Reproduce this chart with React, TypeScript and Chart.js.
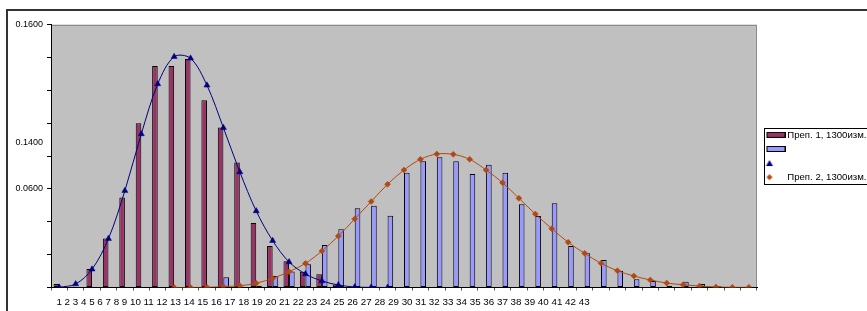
import React, { useEffect, useRef } from 'react';
import { Chart, registerables } from 'chart.js';

Chart.register(...registerables);

const categories = [
  '1', '2', '3', '4', '5', '6', '7', '8', '9', '10',
  '11', '12', '13', '14', '15', '16', '17', '18', '19', '20',
  '21', '22', '23', '24', '25', '26', '27', '28', '29', '30',
  '31', '32', '33', '34', '35', '36', '37', '38', '39', '40',
  '41', '42', '43',
];

// Series 1: bars (Преп. 1)
const prep1Bars = [
  0.0022, 0.0005, 0.0112, 0.0298, 0.0547, 0.0999, 0.1348, 0.1348, 0.1390, 0.1139,
  0.0974, 0.0760, 0.0392, 0.0252, 0.0160, 0.0096, 0.0080, 0.0019, 0, 0,
  0, 0, 0, 0, 0, 0, 0, 0, 0, 0,
  0, 0, 0, 0, 0, 0, 0, 0, 0, 0,
  0, 0, 0,
];

// Series 2: bars (Преп. 2)
const prep2Bars = [
  0, 0, 0, 0, 0, 0, 0, 0, 0, 0,
  0.0062, 0.0005, 0.0010, 0.0070, 0.0098, 0.0141, 0.0259, 0.0354, 0.0482, 0.0498,
  0.0437, 0.0698, 0.0768, 0.0792, 0.0768, 0.0690, 0.0747, 0.0698, 0.0506, 0.0435,
  0.0512, 0.0252, 0.0208, 0.0167, 0.0102, 0.0050, 0.0040, 0.0011, 0.0035, 0.0021,
  0.0007, 0.0003, 0.0005,
];

// Series 3: fitted curve for Преп. 1 (triangles)
const prep1Fit = [
  0.0001, 0.0021, 0.0111, 0.0297, 0.0589, 0.0934, 0.1238, 0.1404, 0.1394, 0.1230,
  0.0972, 0.0703, 0.0465, 0.0285, 0.0155, 0.0082, 0.0040, 0.0015, 0.0003, 0.0001,
  0.0000, null, null, null, null, null, null, null, null, null,
  null, null, null, null, null, null, null, null, null, null,
  null, null, null,
];

// Series 4: fitted curve for Преп. 2 (diamonds)
const prep2Fit = [
  null, null, null, null, null, null, null, 0.0000, 0.0000, 0.0001,
  0.0005, 0.0011, 0.0026, 0.0056, 0.0096, 0.0147, 0.0222, 0.0313, 0.0417, 0.0523,
  0.0628, 0.0715, 0.0780, 0.0812, 0.0810, 0.0780, 0.0715, 0.0638, 0.0543, 0.0447,
  0.0358, 0.0275, 0.0208, 0.0147, 0.0102, 0.0070, 0.0046, 0.0027, 0.0017, 0.0009,
  0.0003, 0.0001, 0.0001,
];

const legendLabels = ['Преп. 1, 1300изм.', '', '', 'Преп. 2, 1300изм.'];

const yTickValues = [0, 0.02, 0.04, 0.06, 0.08, 0.10, 0.12, 0.14, 0.16];
const yLabelValues = [0.16, 0.088, 0.06];
const yLabelTexts = ['0.1600', '0.1400', '0.0600'];

const FONT = "'Liberation Sans', Arial, sans-serif";
const MAROON = '#993366';
const LAVENDER = '#9999FF';
const NAVY = '#000080';
const ORANGE = '#B04A12';

function makeImg(w: number, h: number, draw: (c: CanvasRenderingContext2D) => void) {
  const c = document.createElement('canvas');
  c.width = w;
  c.height = h;
  const ctx = c.getContext('2d');
  if (ctx) draw(ctx);
  return c;
}

const plotAreaPlugin = {
  id: 'plotAreaDeco',
  beforeDraw(chart: any) {
    const { ctx, chartArea: a } = chart;
    ctx.save();
    ctx.fillStyle = '#C0C0C0';
    ctx.fillRect(a.left, a.top, a.right - a.left, a.bottom - a.top);
    ctx.strokeStyle = '#8a8a8a';
    ctx.lineWidth = 1;
    ctx.strokeRect(Math.round(a.left) + 0.5, Math.round(a.top) + 0.5, Math.round(a.right - a.left) - 1, Math.round(a.bottom - a.top) - 1);
    ctx.restore();
  },
  afterDraw(chart: any) {
    const lg = chart.legend;
    if (!lg || !lg.legendHitBoxes || !lg.legendHitBoxes.length) return;
    const hb = lg.legendHitBoxes;
    const first = hb[0];
    const last = hb[hb.length - 1];
    const { ctx } = chart;
    const top = Math.round(first.top + first.height / 2 - 6.5) + 0.5;
    const bottom = Math.round(last.top + last.height / 2 + 7) + 0.5;
    const left = Math.round(first.left - 3) + 0.5;
    ctx.save();
    ctx.strokeStyle = '#000';
    ctx.lineWidth = 1;
    ctx.strokeRect(left, top, 300, bottom - top);
    ctx.restore();
  },
};

export default function App() {
  const canvasRef = useRef<HTMLCanvasElement | null>(null);

  useEffect(() => {
    if (!canvasRef.current) return;

    const rectImg = (fill: string) =>
      makeImg(22, 6, (c) => {
        c.fillStyle = fill;
        c.fillRect(3, 0, 19, 6);
        c.strokeStyle = '#000';
        c.lineWidth = 1;
        c.strokeRect(3.5, 0.5, 18, 5);
      });
    const triImg = makeImg(22, 8, (c) => {
      c.fillStyle = NAVY;
      c.beginPath();
      c.moveTo(6, 1);
      c.lineTo(9.5, 7);
      c.lineTo(2.5, 7);
      c.closePath();
      c.fill();
    });
    const diaImg = makeImg(22, 8, (c) => {
      c.fillStyle = ORANGE;
      c.beginPath();
      c.moveTo(3, 4);
      c.lineTo(6, 1);
      c.lineTo(9, 4);
      c.lineTo(6, 7);
      c.closePath();
      c.fill();
    });
    const legendImgs = [rectImg(MAROON), rectImg(LAVENDER), triImg, diaImg];
    const hiddenTicks = yLabelValues.filter((v) => !yTickValues.includes(v));

    const chart = new Chart(canvasRef.current, {
      type: 'bar',
      data: {
        labels: categories,
        datasets: [
          {
            type: 'bar',
            label: legendLabels[0],
            data: prep1Bars,
            backgroundColor: MAROON,
            borderColor: '#000',
            borderWidth: 1,
            borderSkipped: false,
            categoryPercentage: 0.68,
            barPercentage: 1,
            order: 1,
          },
          {
            type: 'bar',
            label: legendLabels[1],
            data: prep2Bars,
            backgroundColor: LAVENDER,
            borderColor: '#000',
            borderWidth: 1,
            borderSkipped: false,
            categoryPercentage: 0.68,
            barPercentage: 1,
            order: 1,
          },
          {
            type: 'line',
            label: legendLabels[2],
            data: prep1Fit,
            borderColor: NAVY,
            backgroundColor: NAVY,
            borderWidth: 1,
            tension: 0.33,
            fill: false,
            pointStyle: 'triangle',
            pointRadius: 3.5,
            pointBackgroundColor: NAVY,
            pointBorderColor: NAVY,
            pointBorderWidth: 0.5,
            order: 0,
          },
          {
            type: 'line',
            label: legendLabels[3],
            data: prep2Fit,
            borderColor: ORANGE,
            backgroundColor: ORANGE,
            borderWidth: 1,
            tension: 0.33,
            fill: false,
            pointStyle: 'rectRot',
            pointRadius: 3,
            pointBackgroundColor: ORANGE,
            pointBorderColor: ORANGE,
            pointBorderWidth: 0.5,
            order: 0,
          },
        ] as any,
      },
      options: {
        animation: false,
        responsive: false,
        maintainAspectRatio: false,
        events: [],
        layout: { padding: { top: 24.5, left: 0, right: 0, bottom: 0 } },
        scales: {
          x: {
            type: 'category',
            offset: true,
            grid: {
              offset: true,
              drawOnChartArea: false,
              drawTicks: true,
              tickLength: 3,
              color: '#555',
            },
            border: { display: true, color: '#000', width: 1 },
            ticks: { display: false },
            title: {
              display: true,
              text: '  ' + categories.join(' '),
              align: 'start',
              color: '#000',
              font: { family: FONT, size: 9.8 },
              padding: { top: 0, bottom: 3 },
            },
            afterFit: (s: any) => {
              s.height = 23.5;
            },
          },
          y: {
            type: 'linear',
            position: 'left',
            min: 0,
            max: 0.16,
            afterBuildTicks: (s: any) => {
              s.ticks = [...yTickValues, ...hiddenTicks].sort((a, b) => a - b).map((v) => ({ value: v }));
            },
            afterFit: (s: any) => {
              s.width = 51;
            },
            grid: {
              drawOnChartArea: false,
              drawTicks: true,
              tickLength: 4,
              tickColor: (c: any) =>
                c.tick && hiddenTicks.some((h) => Math.abs(h - c.tick.value) < 1e-9) ? 'rgba(0,0,0,0)' : '#000',
            },
            border: { display: true, color: '#000', width: 1 },
            ticks: {
              autoSkip: false,
              padding: 4,
              color: '#000',
              font: { family: FONT, size: 9 },
              callback: (v: any) => {
                const i = yLabelValues.findIndex((x) => Math.abs(x - Number(v)) < 1e-9);
                return i >= 0 ? yLabelTexts[i] : '';
              },
            },
          },
          ySpacer: {
            type: 'linear',
            position: 'right',
            display: true,
            grid: { display: false },
            border: { display: false },
            ticks: { display: false },
            afterFit: (s: any) => {
              s.width = 5;
            },
          },
        },
        plugins: {
          tooltip: { enabled: false },
          legend: {
            display: true,
            position: 'right',
            align: 'center',
            fullSize: false,
            maxWidth: 105,
            labels: {
              usePointStyle: true,
              pointStyleWidth: 16,
              padding: 4.5,
              color: '#000',
              font: { family: FONT, size: 9.6 },
              generateLabels: (ch: any) => {
                const items = (Chart.defaults as any).plugins.legend.labels.generateLabels(ch);
                items.sort((a: any, b: any) => a.datasetIndex - b.datasetIndex);
                return items.map((it: any) => ({ ...it, pointStyle: legendImgs[it.datasetIndex] }));
              },
            },
          },
        },
      } as any,
      plugins: [plotAreaPlugin],
    });

    return () => {
      chart.destroy();
    };
  }, []);

  return (
    <div
      style={{
        position: 'fixed',
        left: 0,
        top: 0,
        width: 867,
        height: 311,
        overflow: 'hidden',
        background: '#fff',
      }}
    >
      <canvas ref={canvasRef} width={867} height={311} style={{ position: 'absolute', left: 0, top: 0, width: 867, height: 311 }} />
      <div
        style={{
          position: 'absolute',
          left: 6,
          top: 9,
          width: 900,
          height: 400,
          border: '2px solid #333',
          boxSizing: 'border-box',
          pointerEvents: 'none',
        }}
      />
    </div>
  );
}
